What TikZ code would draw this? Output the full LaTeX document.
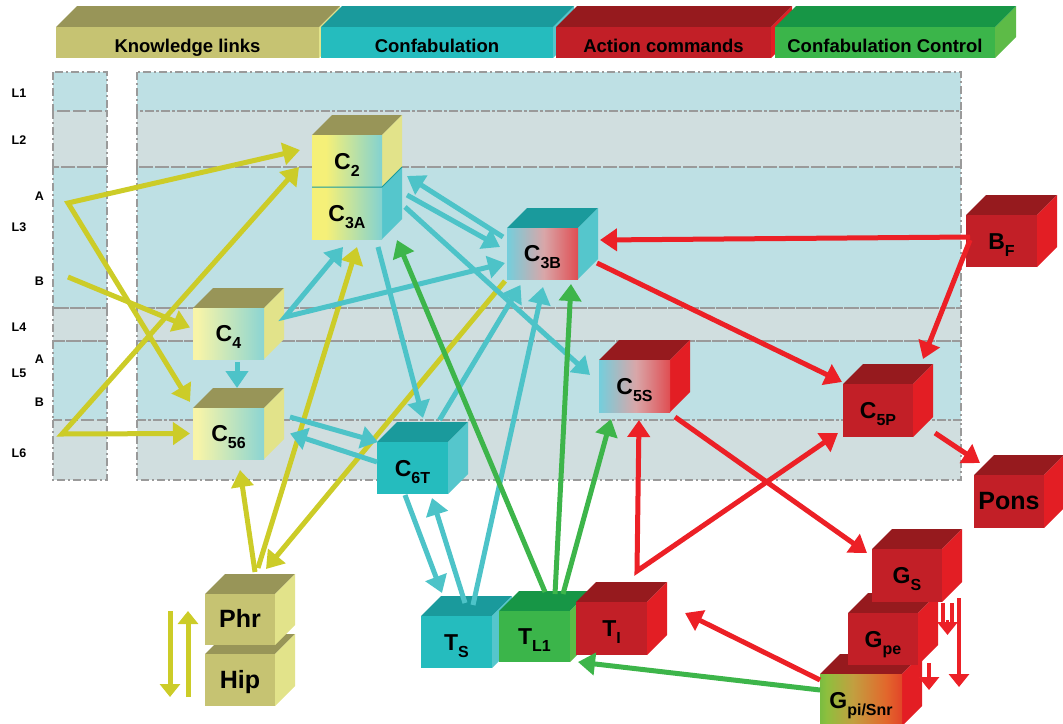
\documentclass[tikz,border=0pt]{standalone}
\usepackage{fontspec}
\setmainfont{Liberation Sans}
\usetikzlibrary{arrows.meta}

\definecolor{bandB}{HTML}{BEE0E4}
\definecolor{bandG}{HTML}{D0DEDF}
\definecolor{olive}{HTML}{989558}
\definecolor{oliveF}{HTML}{C6C372}
\definecolor{yelR}{HTML}{E2E38A}
\definecolor{yel}{HTML}{F5F078}
\definecolor{yelp}{HTML}{F7F4A8}
\definecolor{gcy}{HTML}{74CEDC}
\definecolor{cyF}{HTML}{25BCBE}
\definecolor{cyT}{HTML}{1A9A9C}
\definecolor{cyR}{HTML}{55C6CC}
\definecolor{rdF}{HTML}{C21F27}
\definecolor{rdT}{HTML}{961A1E}
\definecolor{rdR}{HTML}{E31E24}
\definecolor{gnF}{HTML}{3BB54A}
\definecolor{gnT}{HTML}{179646}
\definecolor{gnR}{HTML}{5DBB47}
\definecolor{pgrey}{HTML}{D9A6A8}
\definecolor{gpA}{HTML}{8EBF3E}
\definecolor{gpB}{HTML}{C29F40}
\definecolor{gpC}{HTML}{E2682C}
\definecolor{ay}{HTML}{CCCC28}
\definecolor{ac}{HTML}{4DC3C8}
\definecolor{ag}{HTML}{3DB54A}
\definecolor{ar}{HTML}{EC2026}
\definecolor{dd}{HTML}{9A9A9A}

\pgfdeclarehorizontalshading{gYC}{100bp}{color(0bp)=(yel); color(35bp)=(yel); color(80bp)=(gcy); color(100bp)=(gcy)}
\pgfdeclarehorizontalshading{gYCl}{100bp}{color(0bp)=(yelp); color(28bp)=(yelp); color(85bp)=(gcy); color(100bp)=(gcy)}
\pgfdeclarehorizontalshading{gCR}{100bp}{color(0bp)=(gcy); color(25bp)=(gcy); color(51bp)=(pgrey); color(88bp)=(rdR); color(100bp)=(rdR)}
\pgfdeclarehorizontalshading{gGR}{100bp}{color(0bp)=(gnF); color(12bp)=(gnF); color(29bp)=(gpA); color(45bp)=(gpB); color(65bp)=(gpC); color(86bp)=(rdR); color(100bp)=(rdR)}

\newcommand\Csub[2]{{\fontsize{23}{23}\selectfont #1}{\fontsize{16}{16}\selectfont\raisebox{-7pt}{#2}}}
\newcommand\bigtxt[1]{{\fontsize{25}{25}\selectfont #1}}

% #1 name, #2 x1, #3 y1, #4 x2, #5 y2, #6 front style, #7 top colour, #8 right colour, #9 label
\newcommand\mkcube[9]{%
  \fill[#7] ({#2},{#3}) -- ({#2+20},{#3-20}) -- ({#4+20},{#3-20}) -- ({#4},{#3}) -- cycle;
  \fill[#8] ({#4},{#3}) -- ({#4+20},{#3-20}) -- ({#4+20},{#5-20}) -- ({#4},{#5}) -- cycle;
  \path[#6] ({#2},{#3}) rectangle ({#4},{#5});
  \node[cubelabel, minimum width={#4-#2}, minimum height={#5-#3}] (#1) at ({(#2+#4)/2},{(#3+#5)/2}) {#9};
}
% header bar: #1 name, #2 x1, #3 x2, #4 front, #5 top, #6 right, #7 text
\newcommand\mkbar[7]{%
  \fill[#6] ({#3},27) -- ({#3+21},6) -- ({#3+21},37) -- ({#3},58) -- cycle;
  \fill[#5] ({#2},27) -- ({#2+21},6) -- ({#3+21},6) -- ({#3},27) -- cycle;
  \fill[#4] ({#2},27) rectangle ({#3},58);
  \node[hdr] (#1) at ({(#2+#3)/2},52) {#7};
}

\begin{document}
\begin{tikzpicture}[x=1pt,y=-1pt,
  cubelabel/.style={inner sep=0pt, outer sep=0pt, font=\bfseries, text=black, text height=16.5pt, text depth=0pt},
  hdr/.style={anchor=base, inner sep=0pt, font=\bfseries\fontsize{18.5}{20}\selectfont, text=black},
  lyr/.style={inner sep=0pt, font=\bfseries\fontsize{12.5}{14}\selectfont, text=black},
  ddot/.style={draw=dd, line width=1.5pt, dash pattern=on 8pt off 3pt on 2pt off 3pt},
  hd/.tip={Triangle[length=17pt,width=22pt]},
  sh/.tip={Triangle[length=13pt,width=20pt]},
  yarr/.style={draw=ay, line width=5pt, -hd},
  carr/.style={draw=ac, line width=5pt, -hd},
  garr/.style={draw=ag, line width=5pt, -hd},
  rarr/.style={draw=ar, line width=5pt, -hd},
]
\useasboundingbox (0,0) rectangle (1063,723);

% layer bands
\foreach \ya/\yb/\cc in {72/111/bandB,111/167/bandG,167/308/bandB,308/341/bandG,341/420/bandB,420/480/bandG}{
  \fill[fill=\cc] (53,\ya) rectangle (107,\yb);
  \fill[fill=\cc] (137,\ya) rectangle (961,\yb);
}
\foreach \ya/\yb in {72/111,111/167,167/308,308/341,341/420,420/480}{
  \draw[ddot] (53,\ya) rectangle (107,\yb);
  \draw[ddot] (137,\ya) rectangle (961,\yb);
}

% layer labels
\node[lyr] (l1) at (19,93) {L1};
\node[lyr] (l2) at (19,140) {L2};
\node[lyr] (l3a) at (39.5,196) {A};
\node[lyr] (l3) at (19,227) {L3};
\node[lyr] (l3b) at (39.5,281) {B};
\node[lyr] (l4) at (19,327) {L4};
\node[lyr] (l5a) at (39.5,359) {A};
\node[lyr] (l5) at (19,373) {L5};
\node[lyr] (l5b) at (39.5,402) {B};
\node[lyr] (l6) at (19,453) {L6};

% header bars
\mkbar{hk}{56}{319}{oliveF}{olive}{yelR}{Knowledge links}
\mkbar{hc}{321}{553}{cyF}{cyT}{cyR}{Confabulation}
\mkbar{ha}{556}{771}{rdF}{rdT}{rdR}{Action commands}
\mkbar{hcc}{775}{995}{gnF}{gnT}{gnR}{Confabulation Control}

% cubes
\mkcube{C3A}{312}{187}{382}{239}{shade,shading=gYC}{olive}{cyR}{\Csub{C}{3A}}
\mkcube{C2}{312}{135}{382}{187}{shade,shading=gYC}{olive}{yelR}{\Csub{C}{2}}
\draw[cyT, line width=1pt] (C2.south west) -- (C2.south east) -- ++(20,-20);
\mkcube{C4}{193}{308}{264}{359}{shade,shading=gYCl}{olive}{yelR}{\Csub{C}{4}}
\mkcube{C56}{193}{408}{264}{459}{shade,shading=gYCl}{olive}{yelR}{\Csub{C}{56}}
\mkcube{C3B}{507}{228}{578}{279}{shade,shading=gCR}{cyT}{cyR}{\Csub{C}{3B}}
\mkcube{C5S}{599}{360}{670}{412}{shade,shading=gCR}{rdT}{rdR}{\Csub{C}{5S}}
\mkcube{C5P}{843}{384}{913}{437}{fill=rdF}{rdT}{rdR}{\Csub{C}{5P}}
\mkcube{BF}{966}{215}{1037}{267}{fill=rdF}{rdT}{rdR}{\Csub{B}{F}}
\mkcube{Pons}{974}{475}{1044}{528}{fill=rdF}{rdT}{rdR}{\bigtxt{Pons}}
\mkcube{C6T}{377}{442}{448}{494}{fill=cyF}{cyT}{cyR}{\Csub{C}{6T}}
\mkcube{TS}{421}{616}{492}{668}{fill=cyF}{cyT}{cyR}{\Csub{T}{S}}
\mkcube{TL1}{499}{611}{570}{662}{fill=gnF}{gnT}{gnR}{\Csub{T}{L1}}
\mkcube{TI}{576}{602}{647}{655}{fill=rdF}{rdT}{rdR}{\Csub{T}{I}}
\mkcube{Gpi}{820}{674}{902}{726}{shade,shading=gGR}{rdT}{rdR}{\Csub{G}{pi/Snr}}
\mkcube{Gpe}{848}{613}{918}{665}{fill=rdF}{rdT}{rdR}{\Csub{G}{pe}}
\mkcube{GS}{872}{549}{942}{602}{fill=rdF}{rdT}{rdR}{\Csub{G}{S}}
\mkcube{Hip}{205}{654}{275}{706}{fill=oliveF}{olive}{yelR}{\bigtxt{Hip}}
\mkcube{Phr}{205}{594}{275}{645}{fill=oliveF}{olive}{yelR}{\bigtxt{Phr}}

% free vertices
\coordinate (vA) at (68,203);
\coordinate (vB) at (68,277);
\coordinate (vL6) at (62,434);
\coordinate (vC4) at ([shift={(21,-16.5)}]C4.east);
\coordinate (vTI) at ([shift={(25.5,-31)}]TI.north);

% knowledge links (yellow)
\draw[yarr, hd-hd] ([shift={(-12,-11)}]C2.west) -- (vA) -- ([shift={(-3,-6)}]C56.north west);
\draw[yarr] (vB) -- ([shift={(-3,-6)}]C4.west);
\draw[yarr, hd-hd] ([shift={(-3,0)}]C56.west) -- (vL6) -- ([shift={(-13,-20)}]C2.south west);
\draw[yarr] ([shift={(15,-22)}]Phr.north) -- ([shift={(11.5,11)}]C56.south);
\draw[yarr] ([shift={(18,-26)}]Phr.north) -- ([shift={(10,8)}]C3A.south);
\draw[yarr] ([shift={(-2,2)}]C3B.south west) -- ([shift={(26,-25)}]Phr.north);
\draw[draw=ay, line width=5pt, -sh] ([shift={(-35,-8.5)}]Phr.west) -- ([shift={(-35,17)}]Hip.west);
\draw[draw=ay, line width=5pt, -sh] ([shift={(-17,17)}]Hip.west) -- ([shift={(-17,-8.5)}]Phr.west);

% confabulation (cyan)
\draw[carr] ([shift={(8.5,3)}]C4.south) -- ([shift={(8.5,-20)}]C56.north);
\draw[carr, hd-hd] ([shift={(-4,8)}]C3A.south) -- (vC4) -- ([shift={(-2,9.5)}]C3B.west);
\draw[carr] ([shift={(-4,-16.5)}]C3B.west) -- ([shift={(25,-37)}]C3A.east);
\draw[carr] ([shift={(25,-18)}]C3A.east) -- ([shift={(-7,-6.5)}]C3B.west);
\draw[carr] ([shift={(23,-6)}]C3A.east) -- ([shift={(-9,-11)}]C5S.west);
\draw[carr] ([shift={(31,8)}]C3A.south) -- ([shift={(10.5,-24)}]C6T.north);
\draw[carr] ([shift={(26,-16.5)}]C56.east) -- ([shift={(1,0)}]C6T.north west);
\draw[carr] ([shift={(0,-6)}]C6T.west) -- ([shift={(26,0)}]C56.east);
\draw[carr] ([shift={(27,-22)}]C6T.north) -- ([shift={(-22,6)}]C3B.south);
\draw[carr] ([shift={(16.5,-11)}]TS.north) -- ([shift={(0.5,8)}]C3B.south);
\draw[carr] ([shift={(-7.5,1)}]C6T.south) -- ([shift={(-14.5,-23)}]TS.north);
\draw[carr] ([shift={(8.5,-13)}]TS.north) -- ([shift={(19.5,4)}]C6T.south);

% confabulation control (green)
\draw[garr] ([shift={(10.5,-19)}]TL1.north) -- ([shift={(15,1)}]C3A.south east);
\draw[garr] ([shift={(20.5,-17)}]TL1.north) -- ([shift={(28.5,5)}]C3B.south);
\draw[garr] ([shift={(28.5,-17)}]TL1.north) -- ([shift={(-23.5,7)}]C5S.south);
\draw[garr] ([shift={(0,-10)}]Gpi.west) -- ([shift={(8,0)}]TL1.south east);

% action commands (red)
\draw[rarr] ([shift={(4,-4)}]BF.west) -- ([shift={(22,-13.5)}]C3B.east);
\draw[rarr] ([shift={(4,-1)}]BF.west) -- ([shift={(45,-25)}]C5P.north);
\draw[rarr] ([shift={(19,9.5)}]C3B.east) -- ([shift={(-1,-2)}]C5P.north west);
\draw[rarr] ([shift={(22,22.5)}]C5P.east) -- ([shift={(6,-12)}]Pons.north west);
\draw[rarr] ([shift={(5,5)}]C5S.south east) -- ([shift={(-5,-22.5)}]GS.west);
\draw[rarr, hd-hd] ([shift={(4.5,8)}]C5S.south) -- (vTI) -- ([shift={(-5,22.5)}]C5P.west);
\draw[rarr] ([shift={(0,6)}]Gpi.north west) -- ([shift={(38,-15.5)}]TI.east);
\draw[draw=ar, line width=3.5pt] ([shift={(1,1)}]GS.south east) -- ([shift={(1,24)}]GS.south east);
\draw[draw=ar, line width=3.5pt] ([shift={(10,1)}]GS.south east) -- ([shift={(10,24)}]GS.south east);
\draw[draw=ar, line width=3.5pt, -sh] ([shift={(5.5,18)}]GS.south east) -- ([shift={(5.5,33)}]GS.south east);
\draw[draw=ar, line width=3.5pt, -sh] ([shift={(17,-4)}]GS.south east) -- ([shift={(17,85)}]GS.south east);
\draw[draw=ar, line width=3.5pt, -sh] ([shift={(11,-2)}]Gpe.south east) -- ([shift={(11,25)}]Gpe.south east);
\end{tikzpicture}
\end{document}
